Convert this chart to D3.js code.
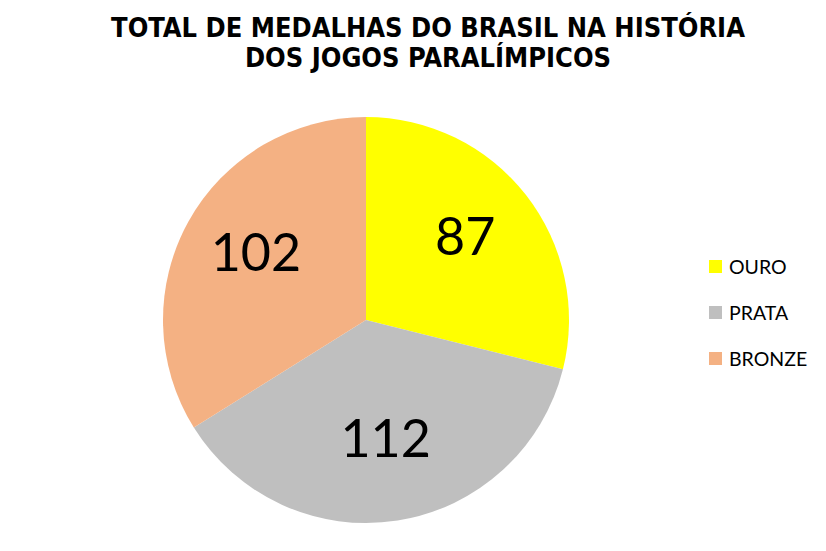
<!DOCTYPE html>
<html><head><meta charset="utf-8">
<script src="https://cdn.jsdelivr.net/npm/d3@7"></script>
<style>body{margin:0;background:#fff}</style>
</head><body>
<svg id="c" width="826" height="551"></svg>
<script>
const categories = ["OURO", "PRATA", "BRONZE"];
const values = [87, 112, 102];
const colors = ["#FFFF00", "#BFBFBF", "#F4B183"];
const titleLines = ["TOTAL DE MEDALHAS DO BRASIL NA HISTÓRIA", "DOS JOGOS PARALÍMPICOS"];

const svg = d3.select("#c");
svg.append("rect").attr("width", 826).attr("height", 551).attr("fill", "#fff");

const t = svg.append("g");
titleLines.forEach((s, i) => {
  t.append("text").attr("x", 428).attr("y", 37 + i * 30)
    .attr("text-anchor", "middle")
    .attr("font-family", "'DejaVu Sans Condensed', 'DejaVu Sans', sans-serif")
    .attr("font-weight", "bold").attr("font-size", 27)
    .attr("fill", "#000").text(s);
});

const cx = 366, cy = 320, r = 203;
const data = categories.map((c, i) => ({cat: c, value: values[i], color: colors[i]}));
const pie = d3.pie().value(d => d.value).sort(null);
const arc = d3.arc().innerRadius(0).outerRadius(r);
const labelArc = d3.arc().innerRadius(r * 0.62).outerRadius(r * 0.62);
const g = svg.append("g").attr("transform", `translate(${cx},${cy})`);
const arcs = pie(data);
g.selectAll("path").data(arcs).join("path")
  .attr("d", arc).attr("fill", d => d.data.color);
g.selectAll("text").data(arcs).join("text")
  .attr("transform", d => { const p = labelArc.centroid(d); return `translate(${p[0]},${p[1]})`; })
  .attr("text-anchor", "middle").attr("dy", "0.24em")
  .attr("font-family", "Lato, 'Open Sans', sans-serif").attr("font-size", 52)
  .attr("fill", "#000").text(d => d.data.value);

const leg = svg.append("g").attr("transform", "translate(709,260)");
categories.forEach((c, i) => {
  const row = leg.append("g").attr("transform", `translate(0,${i * 46})`);
  row.append("rect").attr("width", 13).attr("height", 13).attr("fill", colors[i]);
  row.append("text").attr("x", 20).attr("y", 13.5)
    .attr("font-family", "Lato, 'Open Sans', sans-serif").attr("font-size", 19.5)
    .attr("fill", "#000").text(c);
});
</script>
</body></html>
